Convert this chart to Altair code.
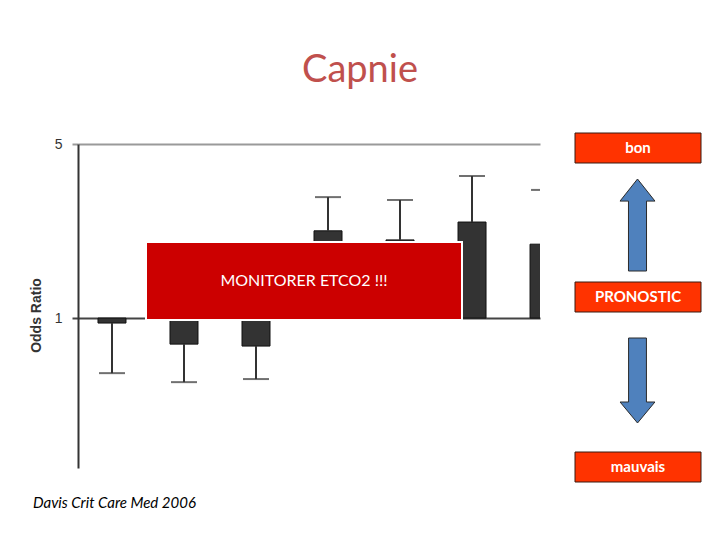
import altair as alt
import pandas as pd

# ---- data ----
position = [1, 2, 3, 4, 5, 6, 7]
odds_ratio = [0.955, 0.786, 0.772, 2.24, 2.06, 2.43, 1.98]
ci_bound = [0.601, 0.553, 0.569, 3.06, 2.98, 3.72, 3.27]
y_ticks = [1, 5]

title_text = ["Capnie"]
banner_text = ["MONITORER ETCO2 !!!"]
prognosis_labels = ["bon", "PRONOSTIC", "mauvais"]
source_text = ["Davis Crit Care Med 2006"]

df = pd.DataFrame({"position": position, "odds": odds_ratio, "ci": ci_bound,
                   "base": [1] * len(position)})

W, H = 462, 324
FONT = "Lato"

grid_color = {"condition": {"test": "datum.value == 1", "value": "#444444"}, "value": "#9A9A9A"}

xs = alt.Scale(domain=[0.528, 6.944], nice=False, zero=False, padding=0)
ys = alt.Scale(type="log", domain=[0.25, 5], nice=False, padding=0)
yaxis = alt.Axis(values=y_ticks, format="~g", title="Odds Ratio", grid=True,
                 gridColor=grid_color, gridWidth=2, domainColor="#333333", domainWidth=2,
                 tickColor=grid_color, tickWidth=2, tickSize=6, labelPadding=10,
                 labelFont="Liberation Sans", labelFontSize=14, labelColor="#333333",
                 titleFont="Liberation Sans", titleFontSize=14,
                 titleFontWeight="bold", titleColor="#333333", titleX=-42, titleY=171,
                 titleAlign="center", titleBaseline="middle", titleAngle=270)

X = alt.X("position:Q", scale=xs, axis=None)

base = alt.Chart(df)
bars = base.mark_bar(size=28, color="#333333", stroke="#111111", strokeWidth=1, clip=True).encode(
    x=X,
    y=alt.Y("odds:Q", scale=ys, axis=yaxis),
    y2="base:Q",
)
err = base.mark_rule(color="#333333", strokeWidth=2, clip=True).encode(
    x=X,
    y=alt.Y("odds:Q", scale=ys, axis=yaxis),
    y2="ci:Q",
)
caps = base.mark_tick(orient="horizontal", size=26, thickness=2, color="#333333", clip=True).encode(
    x=X,
    y=alt.Y("ci:Q", scale=ys, axis=yaxis),
)


def one(label):
    return alt.Chart(pd.DataFrame({"label": [label]}))


# red banner over the chart
banner_box = one(banner_text[0]).mark_rect(color="#CC0000", stroke="white", strokeWidth=2).encode(
    x=alt.value(68), x2=alt.value(384), y=alt.value(98), y2=alt.value(176))
banner_lbl = one(banner_text[0]).mark_text(font=FONT, fontSize=16, color="white",
                                           baseline="middle", align="center").encode(
    x=alt.value(226), y=alt.value(137), text="label:N")

# slide title
title = one(title_text[0]).mark_text(font=FONT, fontSize=38, color="#C0504D",
                                     baseline="alphabetic", align="center").encode(
    x=alt.value(282), y=alt.value(-62), text="label:N")

# source
source = one(source_text[0]).mark_text(font=FONT, fontSize=15, fontStyle="italic", color="black",
                                       baseline="alphabetic", align="left").encode(
    x=alt.value(-45), y=alt.value(364), text="label:N")

# prognosis boxes
box_y = [(-11, 19), (138, 168), (308, 338)]
boxes = []
for lab, (y0, y1) in zip(prognosis_labels, box_y):
    boxes.append(one(lab).mark_rect(color="#FF3300", stroke="#3A1A10", strokeWidth=1).encode(
        x=alt.value(497), x2=alt.value(623), y=alt.value(y0), y2=alt.value(y1)))
    boxes.append(one(lab).mark_text(font=FONT, fontSize=15, fontWeight="bold", color="white",
                                    baseline="middle", align="center").encode(
        x=alt.value(560), y=alt.value((y0 + y1) / 2), text="label:N"))

up_path = "M 0 -1 L 0.38 -0.52 L 0.196 -0.52 L 0.196 1 L -0.196 1 L -0.196 -0.52 L -0.38 -0.52 Z"
down_path = "M 0 1 L 0.41 0.506 L 0.21 0.506 L 0.21 -1 L -0.21 -1 L -0.21 0.506 L -0.41 0.506 Z"
arrow_up = one("up").mark_point(shape=up_path, filled=True, fill="#4F81BD", stroke="#2B2B2B",
                                strokeWidth=1, opacity=1, size=92 * 92).encode(
    x=alt.value(559.5), y=alt.value(81))
arrow_down = one("down").mark_point(shape=down_path, filled=True, fill="#4F81BD", stroke="#2B2B2B",
                                    strokeWidth=1, opacity=1, size=85 * 85).encode(
    x=alt.value(559.5), y=alt.value(236.5))

chart = alt.layer(bars, err, caps, banner_box, banner_lbl, title, source, *boxes,
                  arrow_up, arrow_down).properties(
    width=W, height=H,
    background="white",
    autosize=alt.AutoSizeParams(type="none"),
    padding={"left": 70, "top": 136, "right": 172, "bottom": 64},
).configure_view(stroke=None)

chart.save("out.html", embed_options={"renderer": "svg", "actions": False})
